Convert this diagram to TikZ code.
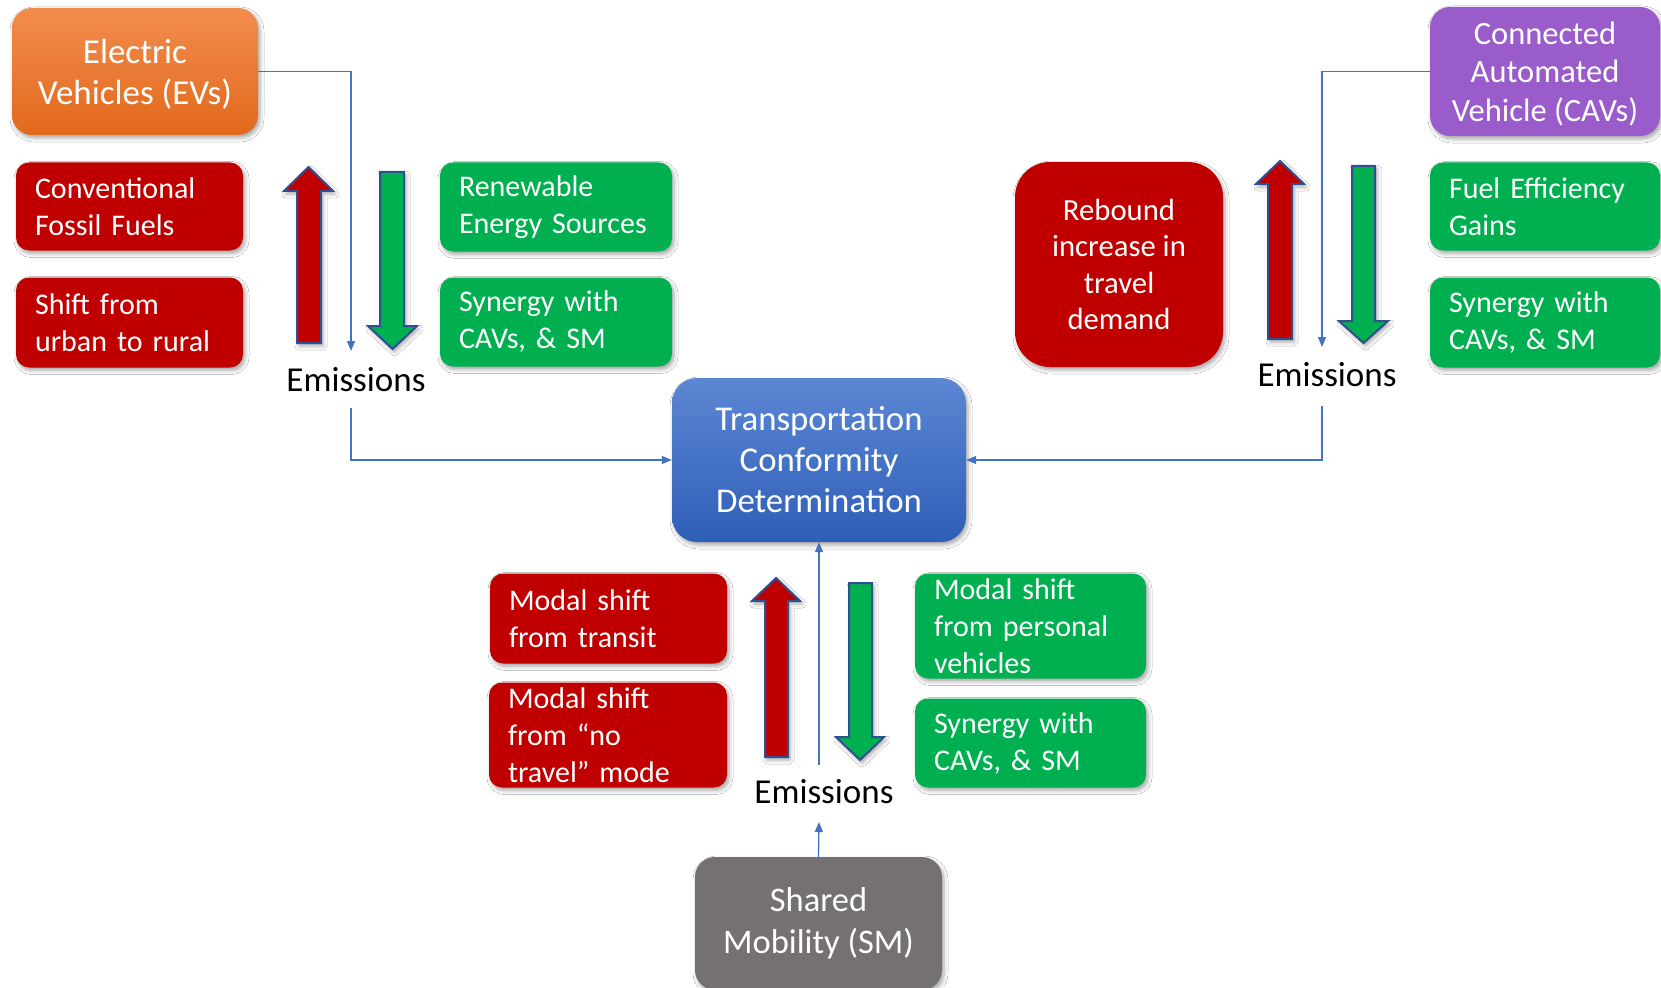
\documentclass[tikz,border=0pt]{standalone}
\usepackage{fontspec}
\setmainfont{Carlito}
\usetikzlibrary{arrows.meta,shadows.blur}
\definecolor{cred}{HTML}{C00000}
\definecolor{cgreen}{HTML}{00B050}
\definecolor{corangeT}{HTML}{F28C4E}
\definecolor{corangeB}{HTML}{E2691C}
\definecolor{cpurple}{HTML}{9A5CCB}
\definecolor{cblueT}{HTML}{5B87D3}
\definecolor{cblueB}{HTML}{2F5EB8}
\definecolor{cgray}{HTML}{767171}
\definecolor{cline}{HTML}{4472C4}
\definecolor{coutline}{HTML}{2F4F8F}
\tikzset{
  shad/.style={blur shadow={shadow xshift=2pt, shadow yshift=-3pt, shadow blur radius=4pt, shadow opacity=35}},
  sbox/.style={shad, rounded corners=13pt, text=white, inner sep=0pt, align=left,
    font=\fontsize{30}{37}\selectfont},
  redbox/.style={sbox, fill=cred},
  greenbox/.style={sbox, fill=cgreen},
  bigbox/.style={shad, text=white, inner sep=0pt, align=center},
  emis/.style={anchor=base, inner sep=0pt, font=\fontsize{35}{40}\selectfont},
  conn/.style={draw=cline, line width=1.3pt, -{Triangle[length=10pt,width=8pt]}},
  uparr/.style={shad, fill=cred, draw=coutline, line width=2pt, line join=miter},
  dnarr/.style={shad, fill=cgreen, draw=coutline, line width=2pt, line join=miter},
}
\begin{document}
\begin{tikzpicture}[x=1pt,y=-1pt]
\useasboundingbox (0,0) rectangle (1661,987);
\fill[white] (0,0) rectangle (1661,987);

% ---- left group (EV)
\node[bigbox, rounded corners=20pt, top color=corangeT, bottom color=corangeB,
  minimum width=246pt, minimum height=127pt, text depth=0pt, font=\fontsize{35}{41}\selectfont]
  (ev) at (135,71.5) {Electric\\Vehicles (EVs)};
\node[redbox, minimum width=227pt, minimum height=88pt, text width=189pt]
  (fossil) at (129.5,206.5) {Conventional\\Fossil Fuels};
\node[redbox, minimum width=227pt, minimum height=90pt, text width=189pt]
  (rural) at (129.5,322.5) {Shift from\\urban to rural};
\node[greenbox, minimum width=232pt, minimum height=89pt, text width=194pt]
  (renew) at (556,207) {Renewable\\Energy Sources};
\node[greenbox, minimum width=232pt, minimum height=89pt, text width=194pt]
  (synL) at (556,322) {Synergy with\\CAVs, \& SM};
\path[uparr] (297,343) -- (297,191) -- (284,191) -- (308.5,167) -- (333,191) -- (321,191) -- (321,343) -- cycle;
\path[dnarr] (380,172) -- (380,326) -- (368,326) -- (392.5,349) -- (417,326) -- (404,326) -- (404,172) -- cycle;
\node[emis] (emL) at (356,391) {Emissions};
\coordinate (emLtop) at (351,351);
\coordinate (emLbot) at (351,408);

% ---- right group (CAV)
\node[bigbox, rounded corners=20pt, fill=cpurple, minimum width=230pt, minimum height=129pt,
  text depth=0pt, font=\fontsize{32.5}{38.5}\selectfont]
  (cav) at (1545,71.5) {Connected\\Automated\\Vehicle (CAVs)};
\node[bigbox, rounded corners=35pt, fill=cred, minimum width=208pt, minimum height=205pt,
  font=\fontsize{30.7}{36.5}\selectfont]
  (rebound) at (1119,264.5) {Rebound\\increase in\\travel\\demand};
\node[greenbox, minimum width=230pt, minimum height=88pt, text width=192pt]
  (fuel) at (1545,206.5) {Fuel Efficiency\\Gains};
\node[greenbox, minimum width=230pt, minimum height=90pt, text width=192pt]
  (synR) at (1545,322.5) {Synergy with\\CAVs, \& SM};
\path[uparr] (1268,339) -- (1268,184) -- (1256,184) -- (1280,161) -- (1304,184) -- (1292,184) -- (1292,339) -- cycle;
\path[dnarr] (1352,166) -- (1352,321) -- (1339,321) -- (1363.5,343) -- (1388,321) -- (1375,321) -- (1375,166) -- cycle;
\node[emis] (emR) at (1327,386) {Emissions};
\coordinate (emRtop) at (1322,347);
\coordinate (emRbot) at (1322,406);

% ---- centre
\node[bigbox, rounded corners=25pt, top color=cblueT, bottom color=cblueB,
  minimum width=294pt, minimum height=164pt, font=\fontsize{34.8}{41}\selectfont]
  (tcd) at (819,460) {Transportation\\Conformity\\Determination};

% ---- bottom group (SM)
\node[redbox, minimum width=237pt, minimum height=90pt, text width=199pt]
  (transit) at (608.5,618.5) {Modal shift\\from transit};
\node[redbox, minimum width=238pt, minimum height=105pt, text width=200pt]
  (notravel) at (608,735) {Modal shift\\from “no\\travel” mode};
\node[greenbox, minimum width=231pt, minimum height=105pt, text width=193pt]
  (personal) at (1030.5,626) {Modal shift\\from personal\\vehicles};
\node[greenbox, minimum width=231pt, minimum height=89pt, text width=193pt]
  (synB) at (1030.5,743) {Synergy with\\CAVs, \& SM};
\path[uparr] (765,757) -- (765,601) -- (752,601) -- (776,578) -- (800,601) -- (788,601) -- (788,757) -- cycle;
\path[dnarr] (849,583) -- (849,737) -- (836,737) -- (860,760) -- (884,737) -- (872,737) -- (872,583) -- cycle;
\node[emis] (emB) at (824,803) {Emissions};
\coordinate (emBtop) at (819,765);
\coordinate (emBbot) at (819,822);
\node[bigbox, rounded corners=20pt, fill=cgray, minimum width=247pt, minimum height=133pt,
  font=\fontsize{34.5}{42}\selectfont]
  (sm) at (818.5,923.5) {Shared\\Mobility (SM)};

% ---- connectors
\draw[conn] (ev.east) -| (emLtop);
\draw[conn] (emLbot) |- (tcd.west);
\draw[conn] (cav.west) -| (emRtop);
\draw[conn] (emRbot) |- (tcd.east);
\draw[conn] (emBtop) -- (tcd.south);
\draw[conn] (sm.north) -- (emBbot);
\end{tikzpicture}
\end{document}
